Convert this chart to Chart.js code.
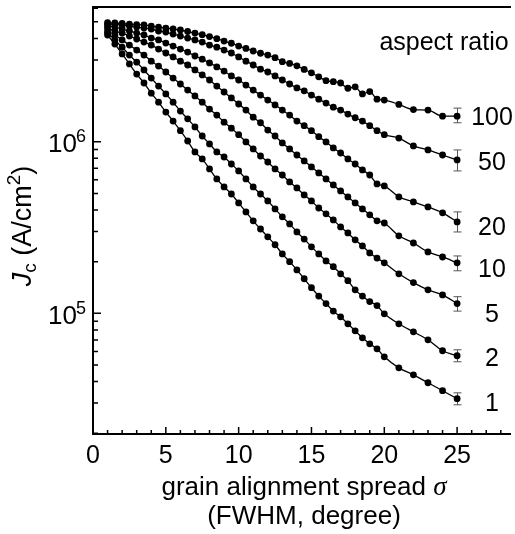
<!DOCTYPE html>
<html>
<head>
<meta charset="utf-8">
<script src="https://cdn.jsdelivr.net/npm/chart.js@4/dist/chart.umd.min.js"></script>
<style>
  html, body { margin: 0; padding: 0; background: #fff; }
  canvas { display: block; }
</style>
</head>
<body>
<canvas id="c" width="515" height="534"></canvas>
<script>
// ---------------- data ----------------
const sigma = [1,1.5,2,2.5,3,3.5,4,4.5,5,5.5,6,6.5,7,7.5,8,8.5,9,9.5,10,10.5,11,11.5,12,12.5,13,13.5,14,14.5,15,15.5,16,16.5,17,17.5,18,18.5,19,19.5,20,21,22,23,24,25];

const aspectRatios = ['100','50','20','10','5','2','1'];

const jcAR100 = [4.94e6,4.92e6,4.89e6,4.85e6,4.82e6,4.79e6,4.72e6,4.66e6,4.60e6,4.54e6,4.48e6,4.39e6,4.30e6,4.21e6,4.10e6,3.99e6,3.86e6,3.75e6,3.61e6,3.50e6,3.38e6,3.28e6,3.20e6,3.09e6,2.93e6,2.86e6,2.77e6,2.64e6,2.52e6,2.39e6,2.27e6,2.24e6,2.20e6,2.05e6,2.09e6,1.90e6,1.96e6,1.77e6,1.75e6,1.65e6,1.54e6,1.53e6,1.41e6,1.41e6];
const jcAR50  = [4.85e6,4.82e6,4.79e6,4.72e6,4.66e6,4.60e6,4.54e6,4.42e6,4.36e6,4.24e6,4.13e6,4.02e6,3.92e6,3.81e6,3.66e6,3.56e6,3.42e6,3.29e6,3.12e6,2.95e6,2.80e6,2.65e6,2.55e6,2.42e6,2.29e6,2.17e6,2.06e6,1.98e6,1.87e6,1.77e6,1.68e6,1.59e6,1.53e6,1.45e6,1.38e6,1.32e6,1.24e6,1.16e6,1.10e6,1.05e6,9.45e5,8.96e5,8.37e5,7.83e5];
const jcAR20  = [4.72e6,4.66e6,4.54e6,4.42e6,4.30e6,4.19e6,4.02e6,3.92e6,3.76e6,3.61e6,3.47e6,3.33e6,3.16e6,3.03e6,2.88e6,2.73e6,2.58e6,2.42e6,2.29e6,2.14e6,2.00e6,1.87e6,1.75e6,1.64e6,1.53e6,1.43e6,1.32e6,1.24e6,1.16e6,1.07e6,9.97e5,9.20e5,8.60e5,7.94e5,7.42e5,6.85e5,6.40e5,5.68e5,5.53e5,4.77e5,4.46e5,4.17e5,3.85e5,3.41e5];
const jcAR10  = [4.60e6,4.42e6,4.30e6,4.13e6,3.97e6,3.81e6,3.66e6,3.47e6,3.29e6,3.12e6,2.95e6,2.80e6,2.62e6,2.45e6,2.29e6,2.11e6,1.95e6,1.80e6,1.66e6,1.53e6,1.39e6,1.29e6,1.17e6,1.08e6,9.84e5,9.08e5,8.37e5,7.73e5,7.13e5,6.58e5,6.07e5,5.60e5,5.17e5,4.77e5,4.40e5,4.06e5,3.75e5,3.46e5,3.36e5,2.83e5,2.57e5,2.28e5,2.13e5,1.97e5];
const jcAR5   = [4.42e6,4.19e6,3.92e6,3.66e6,3.42e6,3.20e6,2.95e6,2.76e6,2.55e6,2.35e6,2.17e6,2.00e6,1.85e6,1.70e6,1.55e6,1.43e6,1.30e6,1.20e6,1.10e6,9.97e5,9.08e5,8.26e5,7.62e5,6.94e5,6.40e5,5.83e5,5.38e5,4.90e5,4.52e5,4.11e5,3.80e5,3.50e5,3.19e5,2.94e5,2.68e5,2.47e5,2.25e5,2.10e5,1.97e5,1.70e5,1.51e5,1.37e5,1.28e5,1.14e5];
const jcAR2   = [4.30e6,3.92e6,3.56e6,3.20e6,2.91e6,2.62e6,2.35e6,2.11e6,1.90e6,1.70e6,1.51e6,1.36e6,1.22e6,1.08e6,9.71e5,8.72e5,8.15e5,7.42e5,6.76e5,6.07e5,5.45e5,4.96e5,4.52e5,4.06e5,3.65e5,3.32e5,2.98e5,2.71e5,2.44e5,2.22e5,2.02e5,1.87e5,1.70e5,1.55e5,1.37e5,1.26e5,1.17e5,1.11e5,9.93e4,8.69e4,7.80e4,7.01e4,6.05e4,5.66e4];
const jcAR1   = [4.19e6,3.71e6,3.25e6,2.84e6,2.48e6,2.20e6,1.92e6,1.70e6,1.49e6,1.32e6,1.16e6,1.01e6,8.72e5,7.94e5,6.94e5,6.07e5,5.45e5,4.96e5,4.40e5,3.90e5,3.46e5,3.10e5,2.79e5,2.51e5,2.22e5,2.00e5,1.79e5,1.59e5,1.41e5,1.26e5,1.14e5,1.03e5,9.54e4,8.69e4,7.91e4,7.20e4,6.64e4,6.21e4,5.58e4,4.81e4,4.38e4,3.94e4,3.54e4,3.18e4];

// error bars at sigma = 25 (order: 100, 50, 20, 10, 5, 2, 1)
const errSigma = 25;
const errUpper = [1.57e6, 8.96e5, 3.90e5, 2.16e5, 1.25e5, 6.13e4, 3.44e4];
const errLower = [1.29e6, 6.76e5, 2.98e5, 1.77e5, 1.03e5, 5.22e4, 2.93e4];

// axis ticks
const xMajorTicks = [0, 5, 10, 15, 20, 25];
const xMinorStep = 1;
const yMajorTicks = [1e5, 1e6];
const yMajorLabelBase = '10';
const yMajorLabelExp = ['5', '6'];

const xTitleLine1 = 'grain alignment spread ';
const xTitleSymbol = 'σ';
const xTitleLine2 = '(FWHM, degree)';
const legendTitle = 'aspect ratio';

// ---------------- styling / layout ----------------
const SANS = '"Liberation Sans", Arial, Helvetica, sans-serif';
const SERIF = '"Liberation Serif", "Times New Roman", serif';
const labelOffsets = [0, 1, 4, 5, 9, 1, 3];

const seriesValues = [jcAR100, jcAR50, jcAR20, jcAR10, jcAR5, jcAR2, jcAR1];

const datasets = seriesValues.map((vals, i) => ({
  label: aspectRatios[i],
  data: sigma.map((s, k) => ({ x: s, y: vals[k] })),
  borderColor: '#000',
  borderWidth: 1.3,
  pointRadius: 3.4,
  pointBackgroundColor: '#000',
  pointBorderWidth: 0,
  cubicInterpolationMode: 'monotone',
  fill: false
}));

const framePlugin = {
  id: 'framePlugin',
  beforeDatasetsDraw(chart) {
    const ctx = chart.ctx;
    const xs = chart.scales.x, ys = chart.scales.y;
    ctx.save();
    ctx.strokeStyle = '#555';
    ctx.lineWidth = 1;
    const px = Math.round(xs.getPixelForValue(errSigma)) + 0.5;
    for (let i = 0; i < errUpper.length; i++) {
      const yt = ys.getPixelForValue(errUpper[i]);
      const yb = ys.getPixelForValue(errLower[i]);
      ctx.beginPath();
      ctx.moveTo(px, yt); ctx.lineTo(px, yb);
      ctx.moveTo(px - 4, yt); ctx.lineTo(px + 4, yt);
      ctx.moveTo(px - 4, yb); ctx.lineTo(px + 4, yb);
      ctx.stroke();
    }
    ctx.restore();
  },
  afterDraw(chart) {
    const ctx = chart.ctx;
    const ca = chart.chartArea;
    const xs = chart.scales.x, ys = chart.scales.y;
    ctx.save();
    ctx.strokeStyle = '#000';
    ctx.fillStyle = '#000';
    // frame lines
    ctx.lineWidth = 2;
    ctx.beginPath();
    ctx.moveTo(ca.left, ca.top); ctx.lineTo(ca.left, ca.bottom);
    ctx.moveTo(ca.left - 1, ca.bottom); ctx.lineTo(ca.right, ca.bottom);
    ctx.moveTo(ca.left - 1, ca.top); ctx.lineTo(ca.right, ca.top);
    ctx.stroke();
    // x ticks (inward)
    ctx.lineWidth = 1.5;
    ctx.beginPath();
    for (let v = xs.min; v <= xs.max + 1e-9; v += xMinorStep) {
      const p = xs.getPixelForValue(v);
      const len = xMajorTicks.includes(v) ? 7 : 4;
      ctx.moveTo(p, ca.bottom); ctx.lineTo(p, ca.bottom - len);
    }
    // y ticks (inward)
    for (let d = 4; d <= 6; d++) {
      for (let m = 1; m <= 9; m++) {
        const v = m * Math.pow(10, d);
        if (v < ys.min || v > ys.max) continue;
        const p = ys.getPixelForValue(v);
        const len = m === 1 ? 8 : 5;
        ctx.moveTo(ca.left, p); ctx.lineTo(ca.left + len, p);
      }
    }
    ctx.stroke();
    // x tick labels
    ctx.font = '25px ' + SANS;
    ctx.textAlign = 'center';
    ctx.textBaseline = 'alphabetic';
    xMajorTicks.forEach(v => {
      ctx.fillText(String(v), xs.getPixelForValue(v), ca.bottom + 29);
    });
    // y tick labels with superscript
    yMajorTicks.forEach((v, i) => {
      const p = ys.getPixelForValue(v);
      ctx.font = '26px ' + SANS;
      ctx.textAlign = 'right';
      ctx.fillText(yMajorLabelBase, 77, p + 10.5);
      ctx.font = '18px ' + SANS;
      ctx.textAlign = 'left';
      ctx.fillText(yMajorLabelExp[i], 76, p + 0.5);
    });
    // x title
    const cx = (ca.left + ca.right) / 2 + 2;
    ctx.font = '26px ' + SANS;
    const w1 = ctx.measureText(xTitleLine1).width;
    ctx.font = 'italic 27px ' + SERIF;
    const ws = ctx.measureText(xTitleSymbol).width;
    let sx = cx - (w1 + ws) / 2;
    ctx.textAlign = 'left';
    ctx.font = '26px ' + SANS;
    ctx.fillText(xTitleLine1, sx, 495);
    ctx.font = 'italic 27px ' + SERIF;
    ctx.fillText(xTitleSymbol, sx + w1, 495);
    ctx.font = '26px ' + SANS;
    ctx.textAlign = 'center';
    ctx.fillText(xTitleLine2, cx, 524);
    // y title: J_c (A/cm^2), rotated
    ctx.save();
    ctx.translate(31, 226);
    ctx.rotate(-Math.PI / 2);
    const parts = [
      { t: 'J', f: 'italic 27px ' + SANS, dy: 0 },
      { t: 'c', f: '19px ' + SANS, dy: 5 },
      { t: ' (A/cm', f: '27px ' + SANS, dy: 0 },
      { t: '2', f: '19px ' + SANS, dy: -11 },
      { t: ')', f: '27px ' + SANS, dy: 0 }
    ];
    let total = 0;
    parts.forEach(pt => { ctx.font = pt.f; pt.w = ctx.measureText(pt.t).width; total += pt.w; });
    let tx = -total / 2;
    ctx.textAlign = 'left';
    parts.forEach(pt => { ctx.font = pt.f; ctx.fillText(pt.t, tx, pt.dy); tx += pt.w; });
    ctx.restore();
    // legend title
    ctx.font = '25px ' + SANS;
    ctx.textAlign = 'center';
    ctx.fillText(legendTitle, 444, 50);
    // series labels at the end of each curve
    ctx.font = '25px ' + SANS;
    ctx.textAlign = 'center';
    seriesValues.forEach((vals, i) => {
      const p = ys.getPixelForValue(vals[vals.length - 1]);
      ctx.fillText(aspectRatios[i], 492, p + labelOffsets[i] + 9);
    });
    ctx.restore();
  }
};

new Chart(document.getElementById('c'), {
  type: 'line',
  data: { datasets },
  options: {
    responsive: false,
    devicePixelRatio: 1,
    animation: false,
    layout: { padding: { left: 93, top: 7, right: 0, bottom: 100 } },
    plugins: { legend: { display: false }, tooltip: { enabled: false } },
    scales: {
      x: { type: 'linear', min: 0, max: 28.7, display: false },
      y: { type: 'logarithmic', min: 1.98e4, max: 6.1e6, display: false }
    }
  },
  plugins: [framePlugin]
});
</script>
</body>
</html>
